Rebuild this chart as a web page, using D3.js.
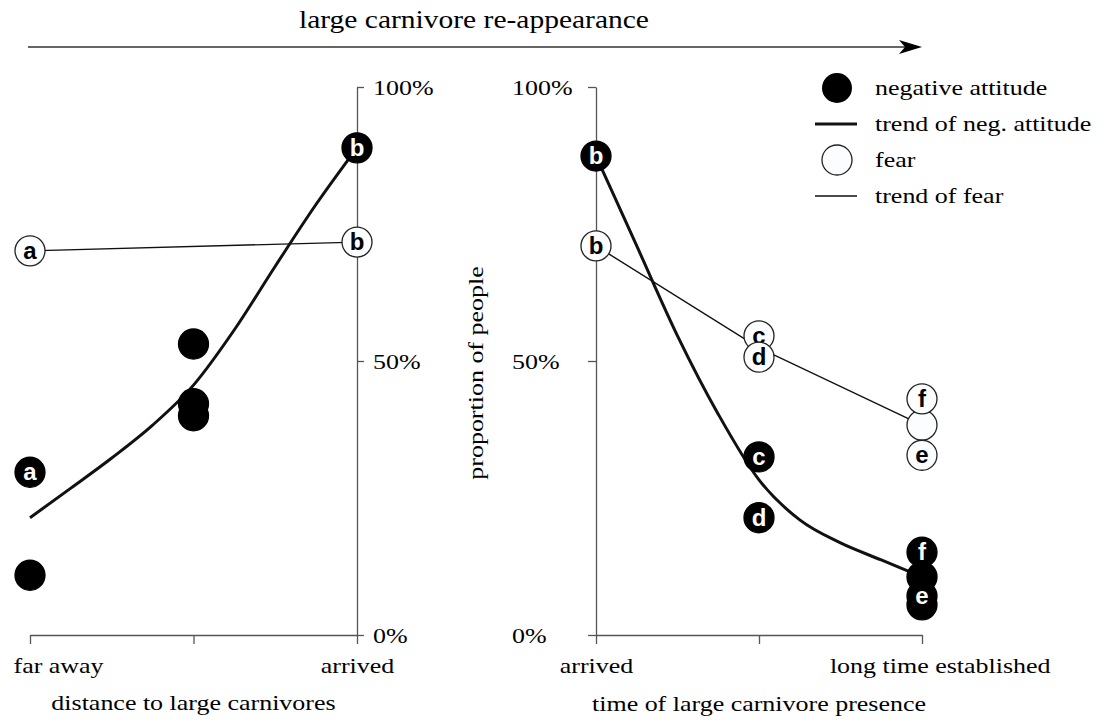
<!DOCTYPE html>
<html>
<head>
<meta charset="utf-8">
<script src="https://cdn.jsdelivr.net/npm/d3@7"></script>
<style>
body { margin: 0; background: #fff; }
svg { display: block; }
</style>
</head>
<body>
<svg id="chart"></svg>
<script>
var W = 1104, H = 720

// tick labels
var leftTicks = ["far away", "", "arrived"]
var rightTicks = ["arrived", "", "long time established"]
var yTicks = [0, 50, 100]

// left panel: distance to large carnivores (x: 0 far away .. 2 arrived), values in %
var leftNegX = [0, 0, 1, 1, 1, 2]
var leftNegV = [29.7, 10.9, 53.1, 42.2, 40.0, 88.9]
var leftNegL = ["a", "", "", "", "", "b"]
var leftFearX = [0, 2]
var leftFearV = [70.1, 71.7]
var leftFearL = ["a", "b"]
var leftNegTrendX = [0, 0.25, 0.5, 0.75, 1, 1.25, 1.5, 1.75, 2]
var leftNegTrendV = [21.4, 26.8, 32.3, 38.3, 45.6, 55.7, 67.3, 78.6, 88.9]
var leftFearTrendX = [0, 2]
var leftFearTrendV = [70.1, 71.7]

// right panel: time of large carnivore presence (x: 0 arrived .. 2 long time established)
var rightNegX = [0, 1, 1, 2, 2, 2, 2]
var rightNegV = [87.4, 32.5, 21.4, 10.6, 5.5, 15.1, 7.1]
var rightNegL = ["b", "c", "d", "", "", "f", "e"]
var rightFearX = [0, 1, 1, 2, 2, 2]
var rightFearV = [71.0, 54.6, 50.7, 38.3, 43.1, 32.8]
var rightFearL = ["b", "c", "d", "", "f", "e"]
var rightNegTrendX = [0, 0.25, 0.5, 0.75, 1, 1.25, 1.5, 1.75, 2]
var rightNegTrendV = [87.4, 71.0, 54.6, 40.3, 28.3, 21.0, 16.8, 13.7, 10.6]
var rightFearTrendX = [0, 1, 2]
var rightFearTrendV = [71.0, 52.4, 38.3]

var legendItems = ["negative attitude", "trend of neg. attitude", "fear", "trend of fear"]

var serif = "'Liberation Serif', 'Times New Roman', serif"
var stretch = 1.18

// stretch serif text a bit wider, like the original typesetting
var widen = function(sel)
{
    sel.each(function()
    {
        var w = this.getComputedTextLength()
        d3.select(this)
        .attr("textLength", w*stretch)
        .attr("lengthAdjust", "spacingAndGlyphs")
    })
}

var svg = d3.select("#chart")
.attr("width", W)
.attr("height", H)

var yScale = d3.scaleLinear().domain([0,100]).range([635,87])
var xLeft = d3.scaleLinear().domain([0,2]).range([30,357])
var xRight = d3.scaleLinear().domain([0,2]).range([596,922])

// arrow on top
svg.append("line")
.attr("x1",28).attr("x2",905)
.attr("y1",47).attr("y2",47)
.attr("stroke","#333")
.attr("stroke-width",1.6)

svg.append("path")
.attr("d","M922,47 L899,40 L905,47 L899,54 Z")
.attr("fill","#000")

svg.append("text")
.text("large carnivore re-appearance")
.attr("x",474).attr("y",28)
.attr("text-anchor","middle")
.style("font-family",serif)
.style("font-size","25px")
.attr("fill","#000")
.call(widen)

var styleAxis = function(g)
{
    g.attr("font-family", serif)
    .attr("font-size", 22)
    .style("color", "#555")
    g.selectAll("path, line").attr("stroke-width", 1.3)
    g.selectAll("text").attr("fill", "#000")
}

// left axes
var gxL = svg.append("g")
.attr("transform","translate(0,"+yScale(0)+")")
.call(d3.axisBottom(xLeft).tickValues([0,1,2]).tickFormat(function(d){return leftTicks[d]}).tickSize(9).tickSizeOuter(0))
.call(styleAxis)
gxL.selectAll("text").attr("dy",null).attr("y",38)
gxL.selectAll("text").filter(function(d){return d==0}).attr("text-anchor","start").attr("x",-17)
gxL.selectAll("text").call(widen)

var gyL = svg.append("g")
.attr("transform","translate("+xLeft(2)+",0)")
.call(d3.axisRight(yScale).tickValues(yTicks).tickFormat(function(d){return d+"%"}).tickSize(7).tickSizeOuter(0))
.call(styleAxis)
gyL.selectAll("text").attr("x",16)
gyL.selectAll("text").call(widen)

// right axes
var gxR = svg.append("g")
.attr("transform","translate(0,"+yScale(0)+")")
.call(d3.axisBottom(xRight).tickValues([0,1,2]).tickFormat(function(d){return rightTicks[d]}).tickSize(9).tickSizeOuter(0))
.call(styleAxis)
gxR.selectAll("text").attr("dy",null).attr("y",38)
gxR.selectAll("text").filter(function(d){return d==2}).attr("text-anchor","end").attr("x",128)
gxR.selectAll("text").call(widen)

var gyR = svg.append("g")
.attr("transform","translate("+xRight(0)+",0)")
.call(d3.axisLeft(yScale).tickValues(yTicks).tickFormat(function(d){return d+"%"}).tickSize(8).tickSizeOuter(0))
.call(styleAxis)
gyR.selectAll("text").attr("text-anchor","start").attr("x",-84)
gyR.selectAll("text").call(widen)

// axis titles
svg.append("text")
.text("distance to large carnivores")
.attr("x",(xLeft(0)+xLeft(2))/2).attr("y",710)
.attr("text-anchor","middle")
.style("font-family",serif).style("font-size","22px").attr("fill","#000")
.call(widen)

svg.append("text")
.text("time of large carnivore presence")
.attr("x",(xRight(0)+xRight(2))/2).attr("y",711)
.attr("text-anchor","middle")
.style("font-family",serif).style("font-size","22px").attr("fill","#000")
.call(widen)

svg.append("text")
.text("proportion of people")
.attr("transform","translate(483,373) rotate(-90)")
.attr("text-anchor","middle")
.style("font-family",serif).style("font-size","22px").attr("fill","#000")
.call(widen)

// trend lines
var drawTrend = function(xs, vs, xScale, width, curve)
{
    var pts = xs.map(function(x,i){return [x, vs[i]]})
    var line = d3.line()
    .x(function(d){return xScale(d[0])})
    .y(function(d){return yScale(d[1])})
    .curve(curve)
    svg.append("path")
    .datum(pts)
    .attr("d", line)
    .attr("fill","none")
    .attr("stroke","#111")
    .attr("stroke-width",width)
}

drawTrend(leftFearTrendX, leftFearTrendV, xLeft, 1.4, d3.curveLinear)
drawTrend(leftNegTrendX, leftNegTrendV, xLeft, 3, d3.curveMonotoneX)
drawTrend(rightFearTrendX, rightFearTrendV, xRight, 1.4, d3.curveLinear)
drawTrend(rightNegTrendX, rightNegTrendV, xRight, 3, d3.curveMonotoneX)

// points
var drawPoints = function(xs, vs, labs, xScale, filled)
{
    var data = xs.map(function(x,i){return {x:x, v:vs[i], lab:labs[i]}})
    var g = svg.append("g")
    var pt = g.selectAll("g")
    .data(data)
    .enter()
    .append("g")
    .attr("transform",function(d){return "translate("+xScale(d.x)+","+yScale(d.v)+")"})
    pt.append("circle")
    .attr("r",15)
    .attr("fill", filled ? "#000" : "#fcfdff")
    .attr("stroke", filled ? "#000" : "#222")
    .attr("stroke-width", 1.3)
    pt.append("text")
    .text(function(d){return d.lab})
    .attr("text-anchor","middle")
    .attr("dy","0.33em")
    .style("font-family","'Liberation Sans', Arial, sans-serif")
    .style("font-weight","bold")
    .style("font-size","24px")
    .attr("fill", filled ? "#fff" : "#000")
}

drawPoints(leftFearX, leftFearV, leftFearL, xLeft, false)
drawPoints(leftNegX, leftNegV, leftNegL, xLeft, true)
drawPoints(rightFearX, rightFearV, rightFearL, xRight, false)
drawPoints(rightNegX, rightNegV, rightNegL, xRight, true)

// legend
var legend = svg.append("g").attr("transform","translate(837,88)")
var rowH = 36
legend.append("circle").attr("cx",0).attr("cy",0).attr("r",15).attr("fill","#000")
legend.append("line").attr("x1",-22).attr("x2",20).attr("y1",rowH).attr("y2",rowH)
.attr("stroke","#111").attr("stroke-width",3)
legend.append("circle").attr("cx",0).attr("cy",rowH*2).attr("r",15)
.attr("fill","#fcfdff").attr("stroke","#222").attr("stroke-width",1.3)
legend.append("line").attr("x1",-22).attr("x2",20).attr("y1",rowH*3).attr("y2",rowH*3)
.attr("stroke","#111").attr("stroke-width",1.4)

legend.selectAll(".ltext")
.data(legendItems)
.enter()
.append("text")
.attr("class","ltext")
.text(function(d){return d})
.attr("x",38)
.attr("y",function(d,i){return i*rowH+7})
.style("font-family",serif).style("font-size","22px").attr("fill","#000")
.call(widen)
</script>
</body>
</html>
